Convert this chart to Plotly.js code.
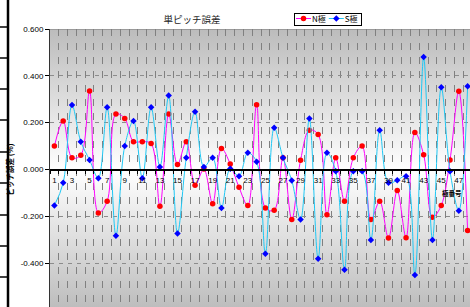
<!DOCTYPE html>
<html><head><meta charset="utf-8">
<script src="https://cdn.plot.ly/plotly-3.0.1.min.js"></script>
<style>
html,body{margin:0;padding:0;overflow:hidden;background:#fff;width:470px;height:307px;}
#wrap{position:relative;width:480px;height:320px;}
#bg{position:absolute;left:50px;top:29px;width:422px;height:281px;box-sizing:border-box;border-top:1px solid #9a9a9a;background:linear-gradient(to bottom,#bcbcbc 0%,#ffffff 50%,#bcbcbc 100%);}
#chart{position:absolute;left:0;top:0;width:480px;height:320px;}
</style></head><body>
<div id="wrap"><div id="bg"></div><div id="chart"></div></div>
<script>
const chartTitle = '単ピッチ誤差';
const yTitle = 'ピッチ誤差 (%)';
const xTitle = '極番号';
const seriesNames = ['N極', 'S極'];
const categories = [1,2,3,4,5,6,7,8,9,10,11,12,13,14,15,16,17,18,19,20,21,22,23,24,25,26,27,28,29,30,31,32,33,34,35,36,37,38,39,40,41,42,43,44,45,46,47,48];
const nPole = [0.100,0.207,0.050,0.061,0.335,-0.186,-0.136,0.237,0.218,0.119,0.119,0.111,-0.157,0.237,0.021,0.119,-0.067,0.002,-0.146,0.090,0.024,-0.076,-0.154,0.277,-0.164,-0.174,0.050,-0.214,0.040,0.168,0.150,-0.193,0.050,-0.136,0.050,0.100,-0.214,-0.136,-0.293,-0.090,-0.291,0.158,0.063,-0.204,-0.154,0.041,0.334,-0.261];
const sPole = [-0.154,-0.057,0.275,0.119,0.041,-0.037,0.266,-0.283,0.100,0.207,-0.037,0.266,0.011,0.316,-0.273,0.050,0.247,0.011,0.050,-0.164,0.003,-0.029,0.071,0.033,-0.360,0.178,0.050,-0.047,-0.214,0.218,-0.381,0.071,-0.007,-0.428,-0.007,-0.007,-0.301,0.168,-0.057,-0.046,-0.029,-0.450,0.480,-0.301,0.351,-0.007,-0.176,0.355];
const xTickVals = [1,3,5,7,9,11,13,15,17,19,21,23,25,27,29,31,33,35,37,39,41,43,45,47];
const xTickLabels = ['1','3','5','7','9','11','13','15','17','19','21','23','25','27','29','31','33','35','37','39','41','43','45','47'];
const yTickVals = [-0.6,-0.4,-0.2,0,0.2,0.4,0.6];
const yTickLabels = ['-0.600','-0.400','-0.200','0.000','0.200','0.400','0.600'];

const W=480, H=320, L=50, R=8, T=29, B=10;
const PW = W-L-R, PH = H-T-B;
const fx = px => (px-L)/PW;
const fy = py => 1-(py-T)/PH;

const numFont = {family:'Liberation Sans, Arial, sans-serif', size:8, color:'#000'};
const jpFont = 'Noto Sans CJK JP, sans-serif';

const traces = [
  {x:categories, y:nPole, name:seriesNames[0], type:'scatter', mode:'lines+markers',
   line:{color:'#FF00FF', width:1, shape:'spline', smoothing:1},
   marker:{color:'#FF0000', size:5.5, symbol:'circle'}},
  {x:categories, y:sPole, name:seriesNames[1], type:'scatter', mode:'lines+markers',
   line:{color:'#1EC8F5', width:1, shape:'spline', smoothing:1},
   marker:{color:'#0000FF', size:5, symbol:'diamond'}}
];

const frameY = [27,58,89,120,152,183,215,246,277];
const shapes = [{type:'line', xref:'paper', yref:'paper', x0:fx(8), x1:fx(8), y0:fy(-5), y1:fy(315), line:{color:'#000', width:2.5}}];
frameY.forEach(v => shapes.push({type:'line', xref:'paper', yref:'paper', x0:fx(-2), x1:fx(8), y0:fy(v), y1:fy(v), line:{color:'#000', width:1.5}}));

const layout = {
  width:W, height:H, margin:{l:L, r:R, t:T, b:B},
  paper_bgcolor:'rgba(0,0,0,0)', plot_bgcolor:'rgba(0,0,0,0)',
  showlegend:true,
  title:{text:chartTitle, x:192/W, xanchor:'center', xref:'container', y:1-19.5/H, yanchor:'middle', yref:'container',
         font:{family:jpFont, size:9.5, color:'#222'}},
  xaxis:{range:[0.5,48.5], anchor:'free', position:0.5, showline:true, linecolor:'#000', linewidth:2,
         tickmode:'array', tickvals:xTickVals, ticktext:xTickLabels, ticks:'', ticklabelstandoff:3, showgrid:false, zeroline:false,
         tickfont:numFont, fixedrange:true,
         minor:{tickmode:'linear', tick0:0.5, dtick:1, ticks:'outside', ticklen:3, tickcolor:'#000', tickwidth:1,
                showgrid:true, gridcolor:'#808080', gridwidth:1, griddash:'7px,7px'}},
  yaxis:{range:[-0.6,0.6], tickmode:'array', tickvals:yTickVals, ticktext:yTickLabels, ticks:'outside', ticklen:4,
         tickcolor:'#000', showline:true, linecolor:'#333', linewidth:1, showgrid:true, gridcolor:'#8c8c8c',
         gridwidth:1, griddash:'4px,5px', zeroline:false, tickfont:numFont, fixedrange:true,
         title:{text:'<b>'+yTitle+'</b>', font:{family:jpFont, size:7.5, color:'#000'}, standoff:6}},
  legend:{orientation:'h', x:fx(294), xanchor:'left', y:fy(12.5), yanchor:'top', bgcolor:'#fff',
          bordercolor:'#000', borderwidth:1, font:{family:jpFont, size:8, color:'#000'}, itemwidth:30},
  shapes:shapes,
  annotations:[{text:'<b>'+xTitle+'</b>', xref:'paper', yref:'paper', x:fx(452), y:fy(193), showarrow:false,
                font:{family:jpFont, size:6.5, color:'#000'}, xanchor:'center', yanchor:'middle'}]
};

// compact the legend entries after Plotly lays them out (short sample lines, Excel-like box)
function compactLegend(gd){
  const leg = gd.querySelector('.legend');
  if(!leg) return;
  const items = leg.querySelectorAll('.traces');
  let x = 2;
  const boxH = 12;
  items.forEach(it => {
    it.setAttribute('transform', 'translate(' + x + ',' + (boxH/2) + ')');
    it.querySelectorAll('.legendlines path').forEach(p => p.setAttribute('d', 'M0,0h15'));
    it.querySelectorAll('.legendpoints path').forEach(p => p.setAttribute('transform', 'translate(7.5,0)'));
    const t = it.querySelector('.legendtext');
    let w = 14;
    if(t){ t.setAttribute('x', 16); t.querySelectorAll('tspan').forEach(s => { if(s.hasAttribute('x')) s.setAttribute('x', 16); }); w = t.getComputedTextLength(); }
    x += 16 + w + 3;
  });
  const bg = leg.querySelector('.bg');
  if(bg){ bg.setAttribute('width', x); bg.setAttribute('height', boxH); }
  const clip = leg.querySelectorAll('clipPath rect');
  const defs = gd.querySelectorAll('clipPath[id*="legend"] rect');
  defs.forEach(r => { r.setAttribute('width', x + 2); r.setAttribute('height', boxH + 2); });
}

Plotly.newPlot('chart', traces, layout, {staticPlot:true, displayModeBar:false}).then(compactLegend);
</script></body></html>
